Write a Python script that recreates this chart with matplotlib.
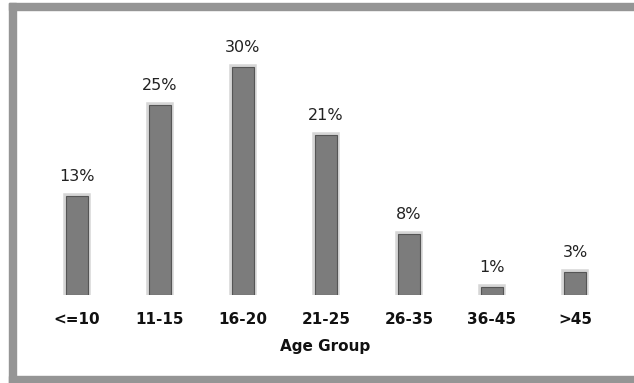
import matplotlib
matplotlib.use("Agg")
import matplotlib.pyplot as plt
from matplotlib.patches import Rectangle

categories = ["<=10", "11-15", "16-20", "21-25", "26-35", "36-45", ">45"]
shares = [13, 25, 30, 21, 8, 1, 3]
x_title = "Age Group"

W, H = 634, 383
fig = plt.figure(figsize=(W / 100, H / 100), dpi=100)
fig.patch.set_facecolor("white")

# plot area: from the inner edge of the frame to the right edge, baseline at bars' foot
left_px, right_px, top_px, base_px = 16, 634, 8, 295
ax = fig.add_axes([left_px / W, (H - base_px) / H,
                   (right_px - left_px) / W, (base_px - top_px) / H])
ax.set_facecolor("none")

xs = list(range(len(categories)))
px_per_unit = 83.0
ax.set_xlim((left_px - 77) / px_per_unit, (right_px - 77) / px_per_unit)
ax.set_ylim(0, (base_px - top_px) / 7.6)

# light halo behind each bar, then the bar itself
ax.bar(xs, shares, width=0.265, color="none", edgecolor="#d6d6d6",
       linewidth=4.0, zorder=2)
ax.bar(xs, shares, width=0.265, color="#7c7c7c", edgecolor="#555555",
       linewidth=0.8, zorder=3)

for x, v in zip(xs, shares):
    ax.annotate(f"{v}%", (x, v), xytext=(0, 9), textcoords="offset points",
                ha="center", va="bottom", fontsize=11.5, color="#222222",
                family="DejaVu Sans")

ax.set_xticks(xs)
ax.set_xticklabels(categories, fontsize=11, fontweight="bold",
                   family="DejaVu Sans", color="#111111")
ax.tick_params(axis="x", length=0, pad=12)
ax.set_yticks([])
for s in ax.spines.values():
    s.set_visible(False)
ax.set_xlabel(x_title, fontsize=11, fontweight="bold", family="DejaVu Sans",
              color="#111111", labelpad=9)

# grey frame around the chart (open on the right)
frame = "#959595"
fig.patches.append(Rectangle((9 / W, 0), 7 / W, (H - 3) / H,
                             transform=fig.transFigure, color=frame, zorder=0))
fig.patches.append(Rectangle((9 / W, (H - 10) / H), (W - 9) / W, 7 / H,
                             transform=fig.transFigure, color=frame, zorder=0))
fig.patches.append(Rectangle((9 / W, 0), (W - 9) / W, 7 / H,
                             transform=fig.transFigure, color=frame, zorder=0))

fig.savefig("out.png", dpi=100)
